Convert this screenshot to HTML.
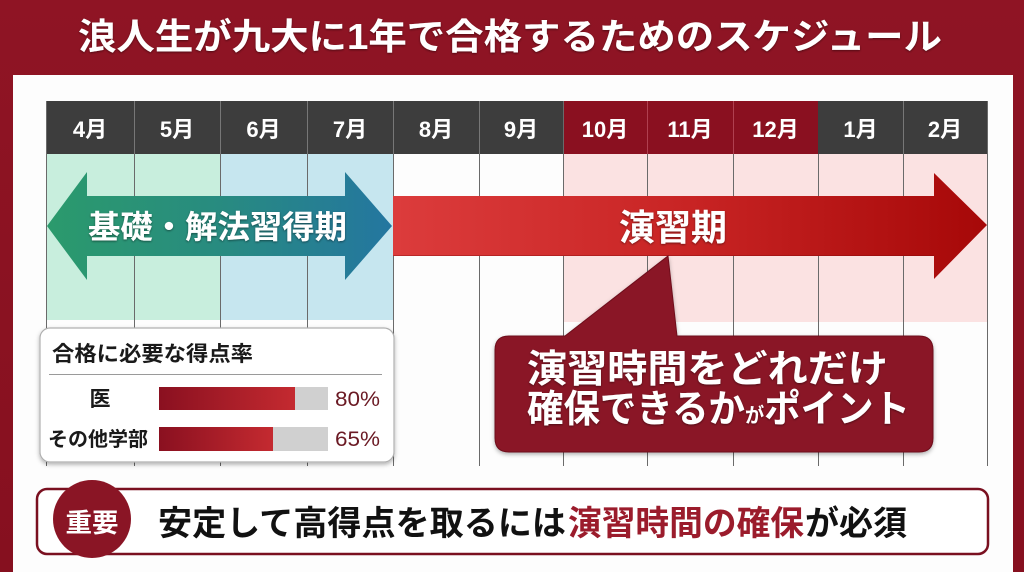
<!DOCTYPE html>
<html>
<head>
<meta charset="utf-8">
<style>
html,body{margin:0;padding:0;width:1024px;height:572px;overflow:hidden;background:#8b1222;}
svg{display:block;}
text{font-family:"Liberation Sans","Noto Sans CJK JP",sans-serif;font-weight:700;}
</style>
</head>
<body>
<svg width="1024" height="572" viewBox="0 0 1024 572" xmlns="http://www.w3.org/2000/svg">
<defs>
<linearGradient id="gbg" x1="0" y1="0" x2="0" y2="1">
<stop offset="0" stop-color="#8f1424"/><stop offset="1" stop-color="#86101f"/>
</linearGradient>
<linearGradient id="garrow" x1="0" y1="0" x2="1" y2="0">
<stop offset="0" stop-color="#2b9a6c"/><stop offset="0.5" stop-color="#288b80"/><stop offset="1" stop-color="#2476a0"/>
</linearGradient>
<linearGradient id="rarrow" x1="0" y1="0" x2="1" y2="0">
<stop offset="0" stop-color="#dc3c3c"/><stop offset="0.5" stop-color="#c82424"/><stop offset="1" stop-color="#a60808"/>
</linearGradient>
<linearGradient id="bar" x1="0" y1="0" x2="1" y2="0">
<stop offset="0" stop-color="#8a1020"/><stop offset="1" stop-color="#c42a30"/>
</linearGradient>
<filter id="sh" x="-10%" y="-10%" width="120%" height="130%">
<feDropShadow dx="0" dy="2" stdDeviation="2" flood-color="#000" flood-opacity="0.3"/>
</filter>
<filter id="tsh" x="-10%" y="-20%" width="120%" height="140%">
<feDropShadow dx="0" dy="1" stdDeviation="1" flood-color="#000" flood-opacity="0.45"/>
</filter>
</defs>

<rect x="0" y="0" width="1024" height="572" fill="url(#gbg)"/>
<!-- title -->
<text x="78" y="49" font-size="36" fill="#ffffff" textLength="864" lengthAdjust="spacingAndGlyphs" filter="url(#tsh)">浪人生が九大に1年で合格するためのスケジュール</text>

<!-- panel -->
<rect x="13" y="75" width="1000" height="497" fill="#fdfdfd"/>

<!-- column fills -->
<rect x="46" y="154" width="174" height="166" fill="#c8eedd"/>
<rect x="220" y="154" width="173" height="166" fill="#c6e6ef"/>
<rect x="563" y="154" width="424" height="168" fill="#fbe2e2"/>

<!-- header -->
<rect x="46" y="101" width="517" height="53" fill="#3d3d3d"/>
<rect x="563" y="101" width="255" height="53" fill="#8a1020"/>
<rect x="818" y="101" width="169" height="53" fill="#3d3d3d"/>

<!-- vertical lines -->
<g stroke="#6a6a6a" stroke-width="1">
<line x1="46.5" y1="101" x2="46.5" y2="466"/>
<line x1="134.5" y1="101" x2="134.5" y2="466"/>
<line x1="220.5" y1="101" x2="220.5" y2="466"/>
<line x1="307.5" y1="101" x2="307.5" y2="466"/>
<line x1="393.5" y1="101" x2="393.5" y2="466"/>
<line x1="479.5" y1="101" x2="479.5" y2="466"/>
<line x1="563.5" y1="101" x2="563.5" y2="466"/>
<line x1="647.5" y1="101" x2="647.5" y2="466"/>
<line x1="733.5" y1="101" x2="733.5" y2="466"/>
<line x1="818.5" y1="154" x2="818.5" y2="466"/>
<line x1="903.5" y1="101" x2="903.5" y2="466"/>
<line x1="987.5" y1="101" x2="987.5" y2="466"/>
</g>
<g stroke="#777" stroke-width="1">
<line x1="134.5" y1="101" x2="134.5" y2="154"/>
<line x1="220.5" y1="101" x2="220.5" y2="154"/>
<line x1="307.5" y1="101" x2="307.5" y2="154"/>
<line x1="393.5" y1="101" x2="393.5" y2="154"/>
<line x1="479.5" y1="101" x2="479.5" y2="154"/>
<line x1="903.5" y1="101" x2="903.5" y2="154"/>
</g>
<g stroke="#b04050" stroke-width="1">
<line x1="647.5" y1="101" x2="647.5" y2="154"/>
<line x1="733.5" y1="101" x2="733.5" y2="154"/>
</g>

<!-- header text -->
<g font-size="22" fill="#ffffff" text-anchor="middle">
<text x="90" y="137">4月</text>
<text x="177" y="137">5月</text>
<text x="263.5" y="137">6月</text>
<text x="350" y="137">7月</text>
<text x="436" y="137">8月</text>
<text x="521" y="137">9月</text>
<text x="605" y="137">10月</text>
<text x="690" y="137">11月</text>
<text x="775.5" y="137">12月</text>
<text x="860.5" y="137">1月</text>
<text x="945" y="137">2月</text>
</g>

<!-- red arrow -->
<polygon points="393,196 934,196 934,173 987,225 934,279 934,256 393,256" fill="url(#rarrow)"/>
<line x1="393" y1="255.5" x2="934" y2="255.5" stroke="#7a0a0a" stroke-opacity="0.35" stroke-width="1"/>
<text x="619" y="240" font-size="36" fill="#ffffff" textLength="108" lengthAdjust="spacingAndGlyphs" filter="url(#tsh)">演習期</text>

<!-- green arrow -->
<polygon points="47,226 87,172 87,196 345,196 345,172 392,226 345,280 345,256 87,256 87,280" fill="url(#garrow)"/>
<text x="88" y="238" font-size="32" fill="#ffffff" textLength="259" lengthAdjust="spacingAndGlyphs" filter="url(#tsh)">基礎・解法習得期</text>

<!-- legend box -->
<rect x="40" y="328" width="354" height="134" rx="10" ry="10" fill="#ffffff" stroke="#b0b0b0" stroke-width="1.2" filter="url(#sh)"/>
<text x="52" y="361" font-size="21" fill="#1a1a1a" textLength="201" lengthAdjust="spacingAndGlyphs">合格に必要な得点率</text>
<line x1="49" y1="374.5" x2="382" y2="374.5" stroke="#9a9a9a" stroke-width="1"/>
<text x="100" y="406" font-size="21" fill="#1a1a1a" text-anchor="middle">医</text>
<text x="48" y="446" font-size="20" fill="#1a1a1a" textLength="100" lengthAdjust="spacingAndGlyphs">その他学部</text>
<rect x="159" y="387" width="169" height="23" fill="#d0d0d0"/>
<rect x="159" y="387" width="136" height="23" fill="url(#bar)"/>
<rect x="159" y="427" width="169" height="24" fill="#d0d0d0"/>
<rect x="159" y="427" width="114" height="24" fill="url(#bar)"/>
<text x="335" y="406" font-size="21" font-weight="400" fill="#6b1a24" style="font-weight:400" textLength="45" lengthAdjust="spacingAndGlyphs">80%</text>
<text x="335" y="446" font-size="21" fill="#6b1a24" style="font-weight:400" textLength="45" lengthAdjust="spacingAndGlyphs">65%</text>

<!-- callout -->
<g filter="url(#sh)">
<path d="M509,336 L565,336 L668,256 L677,336 L919,336 Q933,336 933,350 L933,438 Q933,452 919,452 L509,452 Q495,452 495,438 L495,350 Q495,336 509,336 Z" fill="#8a1525" stroke="#6e0f1c" stroke-width="1"/>
</g>
<text x="527" y="382" font-size="38" fill="#ffffff" textLength="361" lengthAdjust="spacingAndGlyphs" filter="url(#tsh)">演習時間をどれだけ</text>
<text x="527" y="422" font-size="38" fill="#ffffff" textLength="383" lengthAdjust="spacingAndGlyphs" filter="url(#tsh)">確保できるか<tspan font-size="20">が</tspan>ポイント</text>

<!-- bottom banner -->
<rect x="37" y="489" width="951" height="65" rx="10" ry="10" fill="#ffffff" stroke="#7a1020" stroke-width="2.5"/>
<circle cx="92" cy="519" r="39" fill="#8a1525"/>
<text x="92" y="532" font-size="26" fill="#ffffff" text-anchor="middle" textLength="53" lengthAdjust="spacingAndGlyphs">重要</text>
<text x="158" y="535" font-size="34" fill="#111111" textLength="408" lengthAdjust="spacingAndGlyphs">安定して高得点を取るには</text>
<text x="568" y="535" font-size="34" fill="#9b1c2c" textLength="236" lengthAdjust="spacingAndGlyphs">演習時間の確保</text>
<text x="805" y="535" font-size="34" fill="#111111" textLength="102" lengthAdjust="spacingAndGlyphs">が必須</text>
</svg>
</body>
</html>
